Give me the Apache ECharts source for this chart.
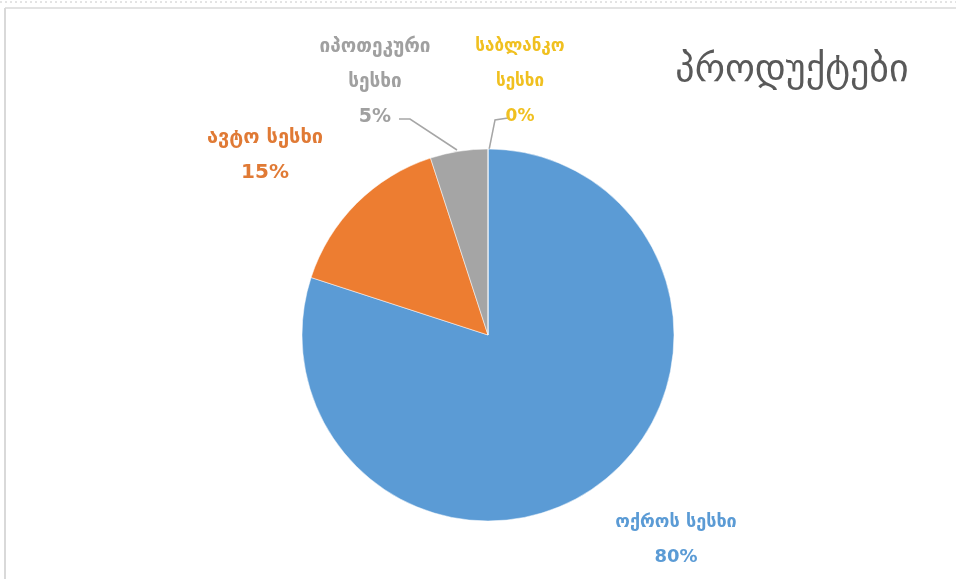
<!DOCTYPE html>
<html><head><meta charset="utf-8">
<script src="https://cdn.jsdelivr.net/npm/echarts@6/dist/echarts.min.js"></script>
<style>html,body{margin:0;padding:0;background:#fff}#c{width:956px;height:579px}</style>
</head><body><div id="c"></div>
<script>
const categories = ['ოქროს სესხი', 'ავტო სესხი', 'იპოთეკური სესხი', 'საბლანკო სესხი'];
const labelLines = [['ოქროს სესხი', '80%'], ['ავტო სესხი', '15%'], ['იპოთეკური', 'სესხი', '5%'], ['საბლანკო', 'სესხი', '0%']];
const values = [80, 15, 5, 0];
const colors = ['#5B9BD5', '#ED7D31', '#A5A5A5', '#FFC000'];
const labelColors = ['#5B9BD5', '#E07A35', '#A0A0A0', '#F0C020'];
const titleText = 'პროდუქტები';

// label placement (text positions only)
const labelPos = [
  {x: 676, y: 540, size: 18, line: null},
  {x: 265, y: 155, size: 20, line: null},
  {x: 375, y: 82, size: 19, line: [[457, 150], [410, 119], [399, 119]]},
  {x: 520, y: 82, size: 17, line: [[489, 150], [495, 120], [508, 118]]}
];

const chart = echarts.init(document.getElementById('c'), null, {renderer: 'canvas'});
const font = '"DejaVu Sans", sans-serif';
chart.setOption({
  backgroundColor: '#fff',
  animation: false,
  title: {
    text: titleText, left: 787, top: 47, textAlign: 'center',
    textStyle: {fontFamily: font, fontSize: 38, fontWeight: 'normal', color: '#595959'}
  },
  graphic: [
    {type: 'line', shape: {x1: 5, y1: 8, x2: 956, y2: 8}, style: {stroke: '#d9d9d9', lineWidth: 1.5}},
    {type: 'line', shape: {x1: 5, y1: 8, x2: 5, y2: 579}, style: {stroke: '#d9d9d9', lineWidth: 2}},
    {type: 'line', shape: {x1: 0, y1: 2, x2: 956, y2: 2}, style: {stroke: '#c8c8c8', lineWidth: 1, lineDash: [2, 3]}}
  ],
  series: [{
    type: 'pie',
    center: [488, 335],
    radius: [0, 186],
    startAngle: 90,
    clockwise: true,
    avoidLabelOverlap: false,
    data: categories.map((c, i) => ({
      name: c, value: values[i],
      itemStyle: {color: colors[i]},
      label: {color: labelColors[i], fontSize: labelPos[i].size, formatter: labelLines[i].join('\n')},
      labelLine: {show: !!labelPos[i].line}
    })),
    itemStyle: {borderColor: '#ffffff', borderWidth: 0.5},
    label: {
      show: true, position: 'outside',
      fontFamily: font, fontSize: 18, fontWeight: 'bold', lineHeight: 35, align: 'center'
    },
    labelLine: {show: true, lineStyle: {color: '#a6a6a6', width: 1.5}},
    labelLayout: function (p) {
      const lp = labelPos[p.dataIndex];
      const r = {x: lp.x, y: lp.y, align: 'center', verticalAlign: 'middle'};
      if (lp.line) r.labelLinePoints = lp.line;
      return r;
    }
  }]
});
</script></body></html>
